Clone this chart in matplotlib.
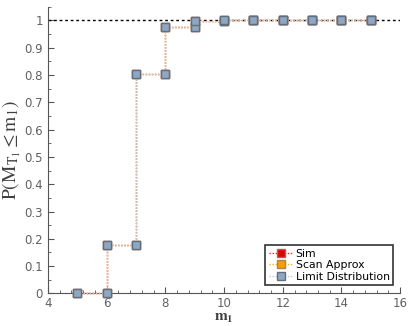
import matplotlib
matplotlib.use("Agg")
import matplotlib.pyplot as plt
import numpy as np
from matplotlib.ticker import MultipleLocator

plt.rcParams["mathtext.fontset"] = "stix"

# CDF values P(M_T1 <= m1) for m1 = 5..15
m1 = np.arange(5, 16)
sim = [0.0, 0.177, 0.803, 0.975, 0.9995, 1.0, 1.0, 1.0, 1.0, 1.0, 1.0]
scan = [0.0, 0.177, 0.803, 0.975, 0.9995, 1.0, 1.0, 1.0, 1.0, 1.0, 1.0]
limit = [0.0, 0.177, 0.803, 0.975, 0.9995, 1.0, 1.0, 1.0, 1.0, 1.0, 1.0]


def step_vertices(x, y):
    # vertices of a post-step curve, markers sit on every corner
    x = np.asarray(x, float)
    y = np.asarray(y, float)
    xs = np.repeat(x, 2)[1:]
    ys = np.repeat(y, 2)[:-1]
    return xs, ys


fig = plt.figure(figsize=(4.1, 3.26), dpi=100)
ax = fig.add_axes([0.117, 0.1, 0.859, 0.879])

series = [
    (sim, "Sim", "#ff2020", "#e00000", "#b06060"),
    (scan, "Scan Approx", "#ffb020", "#f5a000", "#b08050"),
    (limit, "Limit Distribution", "#c0cad8", "#8fa7c2", "#5f6f82"),
]
for vals, lab, lc, fc, ec in series:
    xs, ys = step_vertices(m1, vals)
    ax.plot(xs, ys, ls=(0, (1, 1.2)), lw=1.0, color=lc, marker="s",
            ms=5.5, mfc=fc, mec=ec, mew=1.0, label=lab, clip_on=False,
            zorder=3)

ax.axhline(1.0, color="black", ls=(0, (2, 2)), lw=1.0, zorder=2)

ax.set_xlim(4, 16)
ax.set_ylim(0, 1.05)
for s in ["top", "right"]:
    ax.spines[s].set_visible(False)
for s in ["left", "bottom"]:
    ax.spines[s].set_color("#555555")
    ax.spines[s].set_linewidth(0.8)

ax.xaxis.set_major_locator(MultipleLocator(2))
ax.xaxis.set_minor_locator(MultipleLocator(0.4))
ax.yaxis.set_minor_locator(MultipleLocator(0.05))
ax.set_yticks(np.arange(0, 1.01, 0.1))
ax.set_yticklabels(["0", "0.1", "0.2", "0.3", "0.4", "0.5", "0.6", "0.7",
                    "0.8", "0.9", "1"])
ax.tick_params(which="both", direction="in", color="#555555",
               labelcolor="#606060", labelsize=8.5)
ax.tick_params(which="major", length=4, width=0.8)
ax.tick_params(which="minor", length=2, width=0.6)
ax.tick_params(axis="x", pad=2.5)

ax.set_xlabel(r"$\mathbf{m_1}$", fontsize=11, labelpad=0, color="#404040")
ax.set_ylabel(r"$\mathrm{P(M_{T_1} \leq m_1)}$", fontsize=14, labelpad=1,
              color="#404040")

leg = ax.legend(loc="lower right", fontsize=7.8, frameon=True, fancybox=False,
                edgecolor="black", borderpad=0.3, labelspacing=0.15,
                handlelength=2.2, handletextpad=0.3, markerscale=1.1,
                bbox_to_anchor=(0.995, 0.01))
leg.get_frame().set_linewidth(1.2)

fig.savefig("out.png", dpi=100)
